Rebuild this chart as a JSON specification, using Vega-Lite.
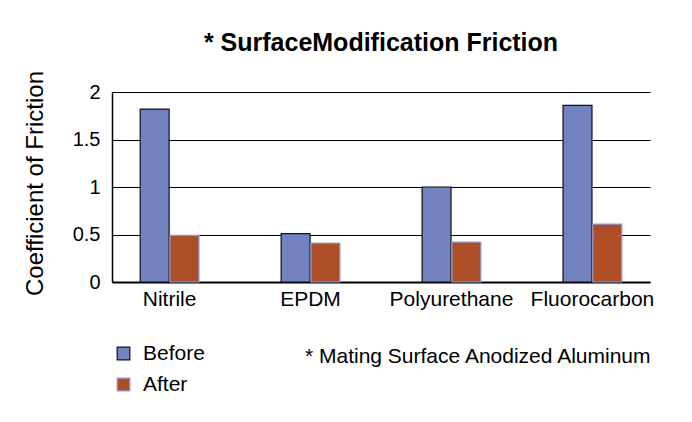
{
  "$schema": "https://vega.github.io/schema/vega-lite/v6.json",
  "autosize": {"type": "none"},
  "width": 538,
  "height": 190,
  "padding": {"left": 112, "top": 92, "right": 42, "bottom": 140},
  "background": "white",
  "title": {
    "text": "* SurfaceModification Friction",
    "font": "Liberation Sans",
    "fontSize": 25,
    "fontWeight": "bold",
    "color": "black",
    "anchor": "middle",
    "frame": "group",
    "baseline": "middle",
    "offset": 3
  },
  "data": {
    "values": [
      {"material": "Nitrile", "series": "Before", "cof": 1.82},
      {"material": "Nitrile", "series": "After", "cof": 0.49},
      {"material": "EPDM", "series": "Before", "cof": 0.51},
      {"material": "EPDM", "series": "After", "cof": 0.41},
      {"material": "Polyurethane", "series": "Before", "cof": 1.0},
      {"material": "Polyurethane", "series": "After", "cof": 0.42},
      {"material": "Fluorocarbon", "series": "Before", "cof": 1.86},
      {"material": "Fluorocarbon", "series": "After", "cof": 0.61}
    ]
  },
  "mark": {"type": "bar", "strokeWidth": 1.2},
  "encoding": {
    "x": {
      "field": "material",
      "type": "nominal",
      "sort": ["Nitrile", "EPDM", "Polyurethane", "Fluorocarbon"],
      "scale": {"paddingInner": 0.583, "paddingOuter": 0.2},
      "axis": {
        "title": "* Mating Surface Anodized Aluminum",
        "titleFont": "Liberation Sans",
        "titleFontSize": 21,
        "titleFontWeight": "normal",
        "titleColor": "black",
        "titleAnchor": "end",
        "titleAlign": "right",
        "titleBaseline": "middle",
        "titleX": 538,
        "titleY": 74,
        "labelAngle": 0,
        "labelFont": "Liberation Sans",
        "labelFontSize": 21,
        "labelColor": "black",
        "labelBaseline": "middle",
        "labelPadding": 17,
        "ticks": false,
        "domainColor": "black",
        "domainWidth": 2,
        "grid": false
      }
    },
    "xOffset": {
      "field": "series",
      "type": "nominal",
      "sort": ["Before", "After"],
      "scale": {"paddingInner": 0.03, "paddingOuter": 0}
    },
    "y": {
      "field": "cof",
      "type": "quantitative",
      "scale": {"domain": [0, 2], "nice": false},
      "axis": {
        "values": [0, 0.5, 1, 1.5, 2],
        "format": "~g",
        "title": "Coefficient of Friction",
        "titleFont": "Liberation Sans",
        "titleFontSize": 24,
        "titleFontWeight": "normal",
        "titleColor": "black",
        "titleAngle": -90,
        "titleAlign": "center",
        "titleBaseline": "middle",
        "titleX": -77,
        "titleY": 91,
        "labelFont": "Liberation Sans",
        "labelFontSize": 20,
        "labelColor": "black",
        "labelPadding": 12,
        "ticks": false,
        "domainColor": "black",
        "domainWidth": 1.5,
        "grid": true,
        "gridColor": "black",
        "gridWidth": 1,
        "gridOpacity": 1
      }
    },
    "fill": {
      "field": "series",
      "type": "nominal",
      "sort": ["Before", "After"],
      "scale": {"domain": ["Before", "After"], "range": ["#7383C0", "#AE4E27"]},
      "legend": {
        "title": null,
        "orient": "none",
        "legendX": 1,
        "legendY": 251,
        "direction": "vertical",
        "symbolType": "square",
        "symbolSize": 160,
        "symbolStrokeWidth": 1.2,
        "symbolOpacity": 1,
        "labelFont": "Liberation Sans",
        "labelFontSize": 21,
        "labelColor": "black",
        "labelOffset": 9,
        "rowPadding": 9
      }
    },
    "stroke": {
      "field": "series",
      "type": "nominal",
      "sort": ["Before", "After"],
      "scale": {"domain": ["Before", "After"], "range": ["#111111", "#8E9BD3"]},
      "legend": {
        "title": null,
        "orient": "none",
        "legendX": 1,
        "legendY": 251,
        "direction": "vertical",
        "symbolType": "square",
        "symbolSize": 160,
        "symbolStrokeWidth": 1.2,
        "symbolOpacity": 1,
        "labelFont": "Liberation Sans",
        "labelFontSize": 21,
        "labelColor": "black",
        "labelOffset": 9,
        "rowPadding": 9
      }
    }
  },
  "config": {
    "view": {"stroke": null},
    "font": "Liberation Sans"
  }
}
